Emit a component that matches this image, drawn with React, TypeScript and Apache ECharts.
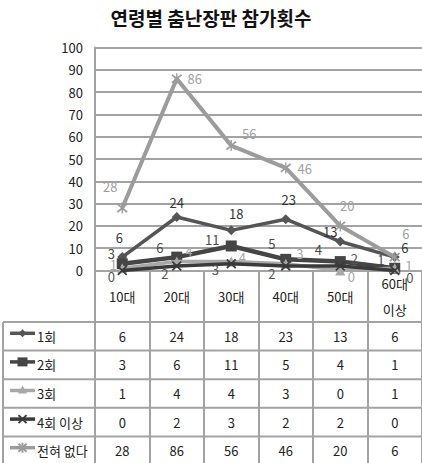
import React, { useEffect, useRef } from "react";
import * as echarts from "echarts";

const title = "연령별 춤난장판 참가횟수";
const categories = ["10대", "20대", "30대", "40대", "50대", "60대 이상"];
const yMin = 0;
const yMax = 100;
const yInterval = 10;
const seriesNames = ["1회", "2회", "3회", "4회 이상", "전혀 없다"];
const once = [6, 24, 18, 23, 13, 6];
const twice = [3, 6, 11, 5, 4, 1];
const thrice = [1, 4, 4, 3, 0, 1];
const fourPlus = [0, 2, 3, 2, 2, 0];
const never = [28, 86, 56, 46, 20, 6];
const seriesValues = [once, twice, thrice, fourPlus, never];

const FONT = "'Noto Sans CJK KR', 'Noto Sans', sans-serif";
const GRID_COLOR = "#a3a3a3";
const X_SYMBOL =
  "path://M0,1.2 L1.2,0 L5,3.8 L8.8,0 L10,1.2 L6.2,5 L10,8.8 L8.8,10 L5,6.2 L1.2,10 L0,8.8 L3.8,5 Z";
const STAR_SYMBOL =
  "path://M0,1.2 L1.2,0 L5,3.8 L8.8,0 L10,1.2 L6.2,5 L10,8.8 L8.8,10 L5,6.2 L1.2,10 L0,8.8 L3.8,5 Z M4.4,-1 L5.6,-1 L5.6,11 L4.4,11 Z";

const seriesStyles = [
  {
    color: "#555555",
    labelColor: "#333333",
    width: 3.5,
    symbol: "diamond",
    size: 10,
    key: "diamond",
    offsets: [[-3, -20], [0, -14], [5, -17], [3, -20], [-10, -10], [10, -10]],
  },
  {
    color: "#454545",
    labelColor: "#4a4a4a",
    width: 4.5,
    symbol: "rect",
    size: 11,
    key: "square",
    offsets: [[-11, -10], [-17, -10], [-19, -6], [-14, -16], [-22, -12], [-14, -9]],
  },
  {
    color: "#a8a8a8",
    labelColor: "#a8a8a8",
    width: 3.5,
    symbol: "triangle",
    size: 10,
    key: "triangle",
    offsets: [[-9, -4], [12, -10], [11, -4], [14, -10], [11, 6], [14, -3]],
  },
  {
    color: "#3a3a3a",
    labelColor: "#555555",
    width: 3.5,
    symbol: X_SYMBOL,
    size: 10,
    key: "x",
    offsets: [[-11, 6], [-12, 7], [-16, 6], [-14, 7], [14, -8], [15, 7]],
  },
  {
    color: "#9c9c9c",
    labelColor: "#a0a0a0",
    width: 4,
    symbol: STAR_SYMBOL,
    size: 11,
    key: "star",
    offsets: [[-12, -22], [18, 0], [18, -12], [19, 1], [7, -20], [11, -24]],
  },
];

const TABLE_TOP = 322;
const ROW_H = 28.6;
const TABLE_LEFT = 3;

function keyMarker(kind: string, cx: number, cy: number, color: string): any[] {
  const lineStyle = { stroke: color, lineWidth: 2 };
  switch (kind) {
    case "diamond":
      return [{ type: "polygon", shape: { points: [[cx, cy - 4], [cx + 4, cy], [cx, cy + 4], [cx - 4, cy]] }, style: { fill: color } }];
    case "square":
      return [{ type: "rect", shape: { x: cx - 5, y: cy - 4.5, width: 10, height: 9 }, style: { fill: color } }];
    case "triangle":
      return [{ type: "polygon", shape: { points: [[cx, cy - 5], [cx + 4.5, cy + 3], [cx - 4.5, cy + 3]] }, style: { fill: color } }];
    case "x":
      return [
        { type: "line", shape: { x1: cx - 4, y1: cy - 4, x2: cx + 4, y2: cy + 4 }, style: lineStyle },
        { type: "line", shape: { x1: cx + 4, y1: cy - 4, x2: cx - 4, y2: cy + 4 }, style: lineStyle },
      ];
    default:
      return [
        { type: "line", shape: { x1: cx - 4, y1: cy - 4, x2: cx + 4, y2: cy + 4 }, style: lineStyle },
        { type: "line", shape: { x1: cx + 4, y1: cy - 4, x2: cx - 4, y2: cy + 4 }, style: lineStyle },
        { type: "line", shape: { x1: cx, y1: cy - 5, x2: cx, y2: cy + 5 }, style: lineStyle },
      ];
  }
}

export default function App() {
  const ref = useRef<HTMLDivElement>(null);

  useEffect(() => {
    document.body.style.margin = "0";
    const chart = echarts.init(ref.current!, null, { renderer: "svg" });

    chart.setOption({
      animation: false,
      backgroundColor: "#ffffff",
      title: {
        text: title,
        left: "center",
        top: 3,
        textStyle: { fontFamily: FONT, fontSize: 19, fontWeight: "bold", color: "#111111" },
      },
      grid: { left: 95, top: 47.5, width: 330, height: 223 },
      xAxis: {
        type: "category",
        data: categories,
        boundaryGap: true,
        axisLine: { show: true, lineStyle: { color: GRID_COLOR, width: 2 } },
        axisTick: { show: true, interval: 0, length: 200, lineStyle: { color: GRID_COLOR, width: 2 } },
        axisLabel: {
          interval: 0,
          margin: 26,
          verticalAlign: "middle",
          lineHeight: 26,
          fontFamily: FONT,
          fontSize: 13,
          color: "#222222",
          formatter: (v: string) => v.replace(" ", "\n"),
        },
        splitLine: { show: false },
      },
      yAxis: {
        type: "value",
        min: yMin,
        max: yMax,
        interval: yInterval,
        axisLine: { show: true, lineStyle: { color: GRID_COLOR, width: 2 } },
        axisTick: { show: false },
        axisLabel: { margin: 12, fontFamily: FONT, fontSize: 13, color: "#222222" },
        splitLine: { show: true, lineStyle: { color: GRID_COLOR, width: 2 } },
      },
      series: seriesValues.map((vals, s) => {
        const st = seriesStyles[s];
        return {
          type: "line",
          name: seriesNames[s],
          data: vals.map((v, i) => ({ value: v, label: { offset: st.offsets[i] } })),
          symbol: st.symbol,
          symbolSize: st.size,
          lineStyle: { color: st.color, width: st.width },
          itemStyle: { color: st.color },
          label: {
            show: true,
            position: "inside",
            color: st.labelColor,
            fontFamily: FONT,
            fontSize: 13,
          },
          z: 2 + s,
        };
      }),
    });

    const centers = categories.map((_, i) => chart.convertToPixel({ xAxisIndex: 0 }, i) as number);
    const colW = centers.length > 1 ? centers[1] - centers[0] : 55;
    const rightEdge = centers[centers.length - 1] + colW / 2 + 10;
    const elements: any[] = [];

    for (let r = 0; r <= seriesNames.length; r++) {
      const y = TABLE_TOP + r * ROW_H;
      elements.push({
        type: "line",
        shape: { x1: TABLE_LEFT, y1: y, x2: rightEdge, y2: y },
        style: { stroke: GRID_COLOR, lineWidth: 2 },
      });
    }
    elements.push({
      type: "line",
      shape: { x1: TABLE_LEFT, y1: TABLE_TOP, x2: TABLE_LEFT, y2: TABLE_TOP + ROW_H * 6 },
      style: { stroke: GRID_COLOR, lineWidth: 2 },
    });

    seriesNames.forEach((name, r) => {
      const st = seriesStyles[r];
      const cy = TABLE_TOP + r * ROW_H + ROW_H / 2;
      elements.push({
        type: "line",
        shape: { x1: 10, y1: cy - 3, x2: 35, y2: cy - 3 },
        style: { stroke: st.color, lineWidth: 3.5 },
      });
      keyMarker(st.key, 22.5, cy - 3, st.color).forEach((e) => elements.push(e));
      elements.push({
        type: "text",
        x: 37,
        y: cy,
        style: {
          text: name,
          fontFamily: FONT,
          fontSize: 13,
          fill: "#222222",
          align: "left",
          verticalAlign: "middle",
        },
      });
      seriesValues[r].forEach((v, i) => {
        elements.push({
          type: "text",
          x: centers[i],
          y: cy,
          style: {
            text: String(v),
            fontFamily: FONT,
            fontSize: 13,
            fill: "#222222",
            align: "center",
            verticalAlign: "middle",
          },
        });
      });
    });

    chart.setOption({ graphic: { elements } });

    return () => chart.dispose();
  }, []);

  return (
    <div
      ref={ref}
      style={{ position: "fixed", left: 0, top: 0, width: 422, height: 463, background: "#fff" }}
    />
  );
}
